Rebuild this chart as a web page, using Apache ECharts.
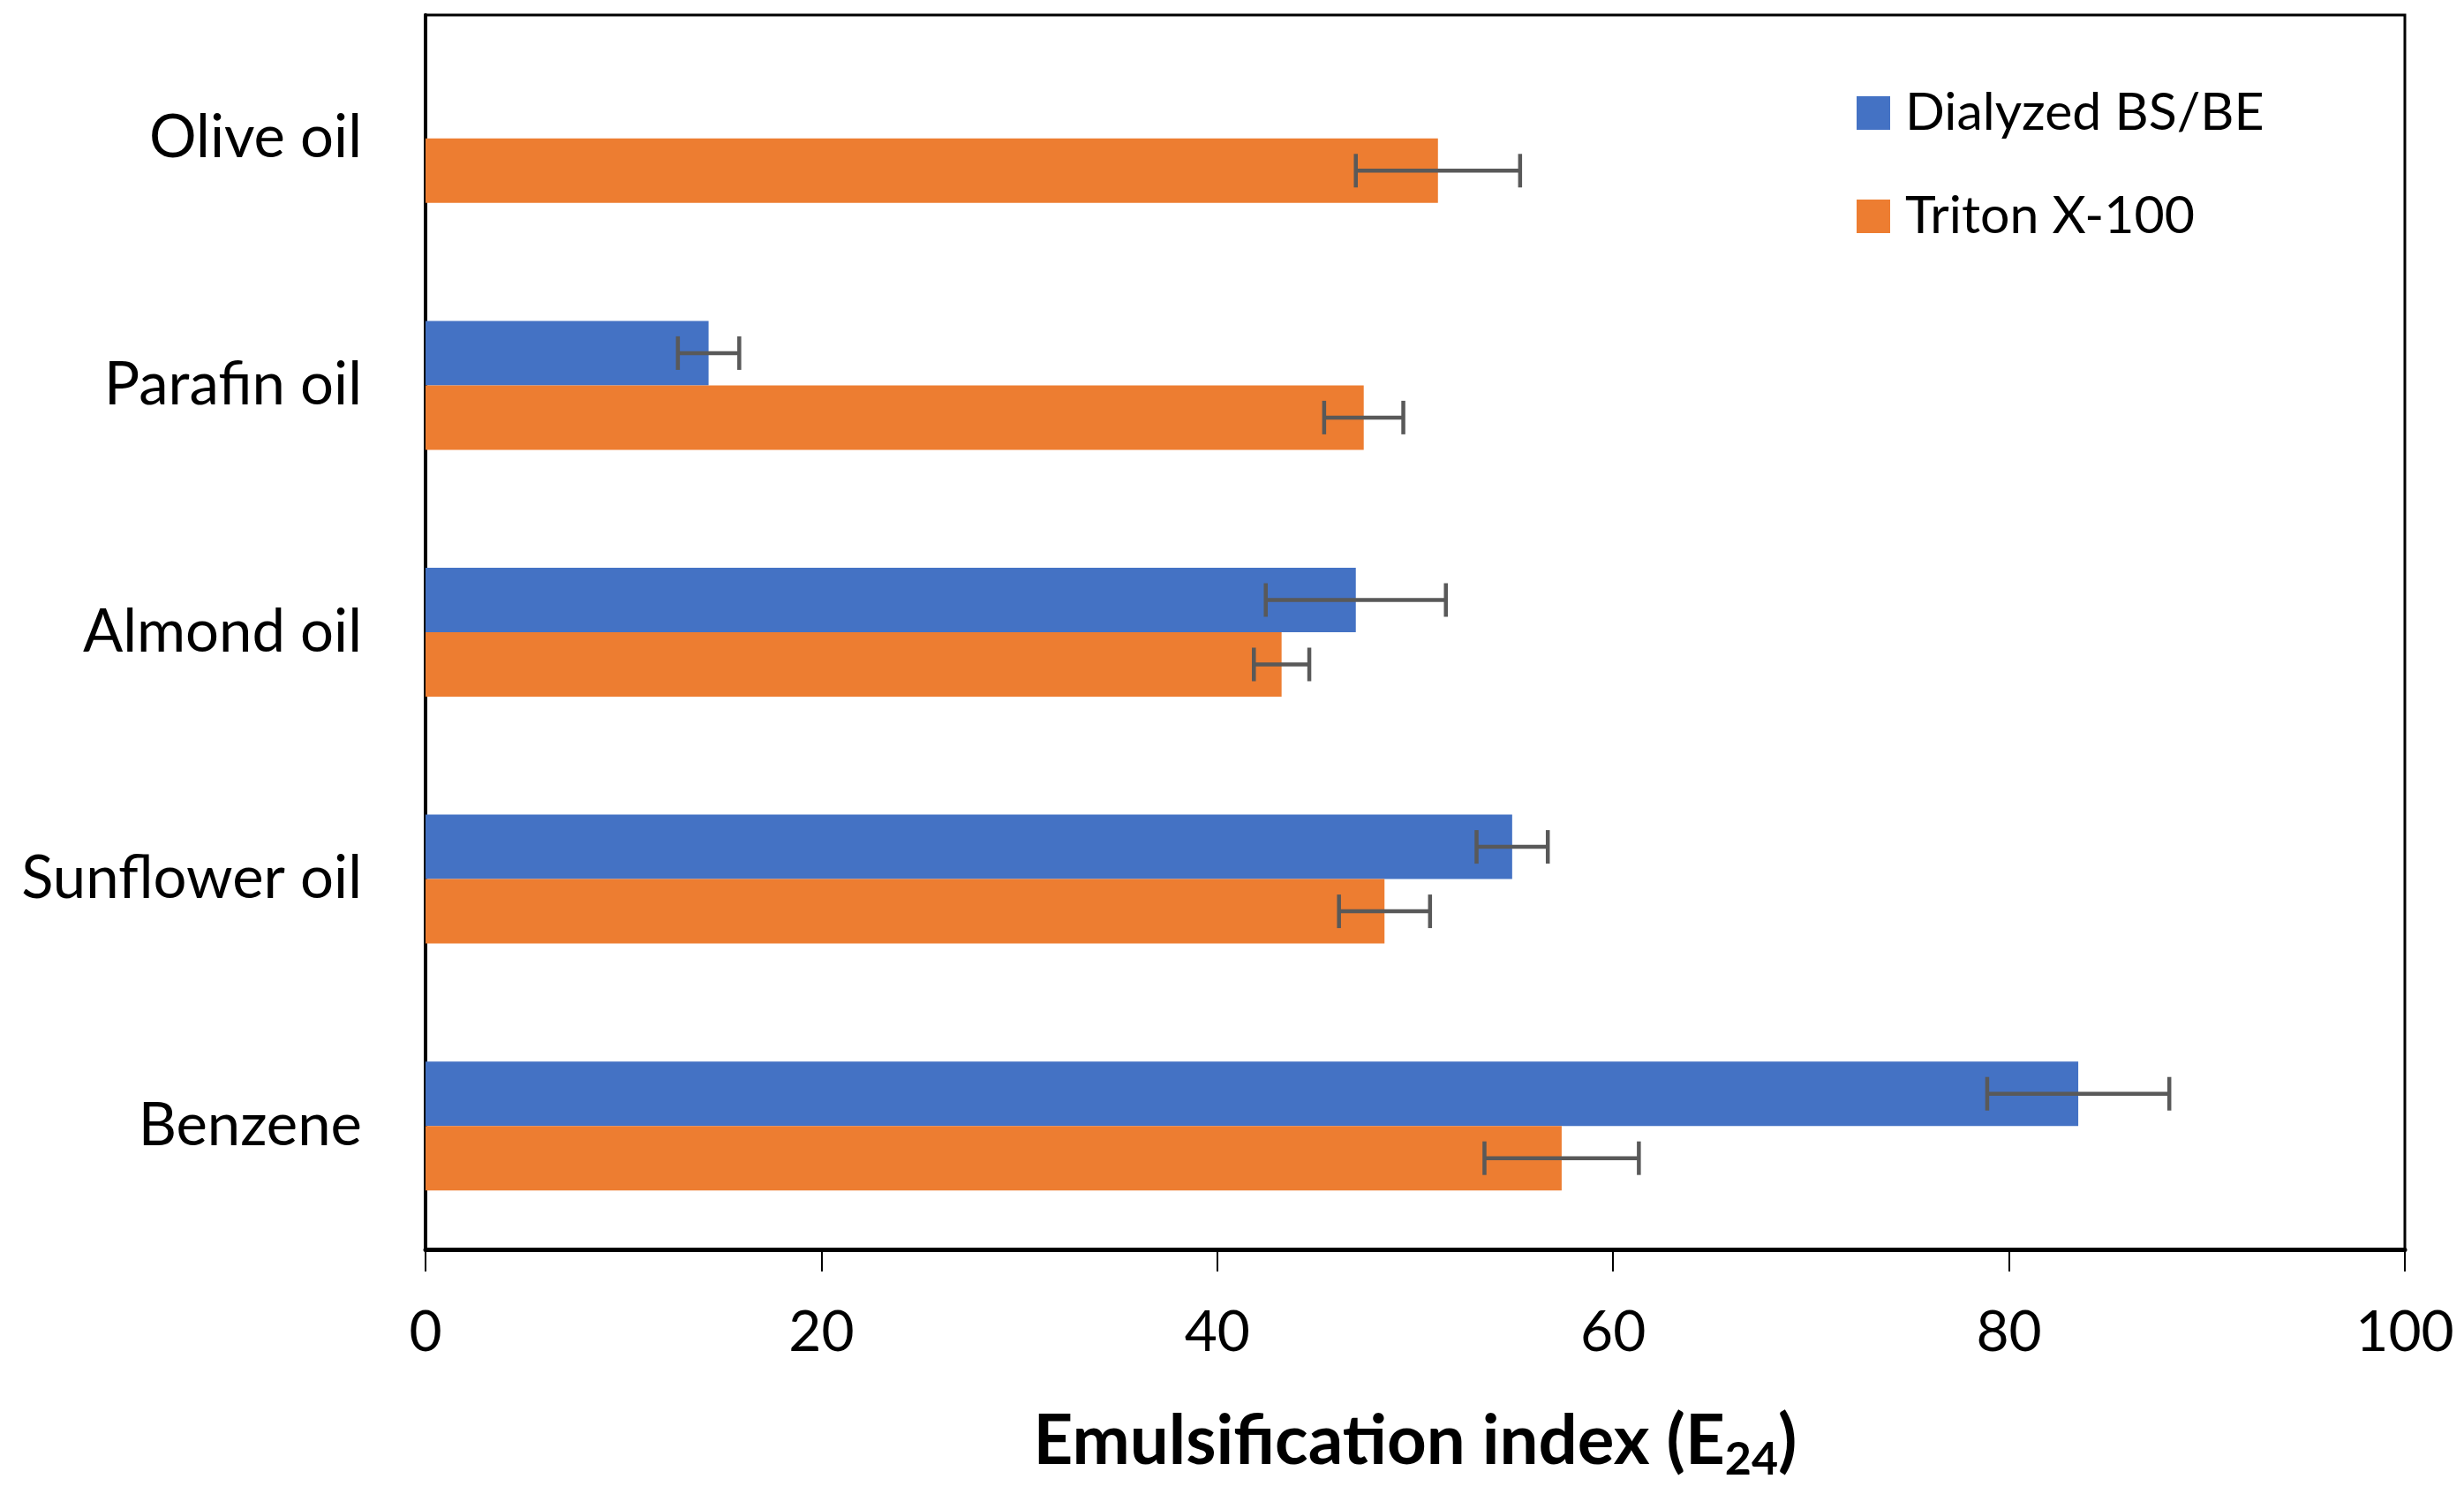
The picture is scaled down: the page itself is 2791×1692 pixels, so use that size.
<!DOCTYPE html>
<html>
<head>
<meta charset="utf-8">
<script src="https://cdn.jsdelivr.net/npm/echarts@6/dist/echarts.min.js"></script>
<style>
html,body{margin:0;padding:0;background:#fff;}
#chart{width:2791px;height:1692px;}
</style>
</head>
<body>
<div id="chart"></div>
<script>
var categories = ['Benzene', 'Sunflower oil', 'Almond oil', 'Parafin oil', 'Olive oil'];
var dialyzed = [83.5, 54.9, 47.0, 14.3, null];
var dialyzedErr = [4.6, 1.8, 4.55, 1.55, null];
var triton = [57.4, 48.45, 43.25, 47.4, 51.15];
var tritonErr = [3.9, 2.3, 1.4, 2.0, 4.15];
var xTicks = [0, 20, 40, 60, 80, 100];
var seriesNames = ['Dialyzed BS/BE', 'Triton X-100'];

var FONT = 'Lato';
var GAP = 0.478;
var BLUE = '#4472C4', ORANGE = '#ED7D31', ERR = '#595959';

function errData(vals, errs) {
  var out = [];
  for (var i = 0; i < vals.length; i++) {
    if (vals[i] != null && errs[i] != null) out.push([vals[i], i, errs[i]]);
  }
  return out;
}

function errRender(sign) {
  return function (params, api) {
    var v = api.value(0), c = api.value(1), e = api.value(2);
    var band = api.size([0, 1])[1];
    var bw = band * (1 - GAP) / 2;
    var yc = api.coord([v, c])[1] + sign * bw / 2;
    var xl = api.coord([v - e, c])[0];
    var xr = api.coord([v + e, c])[0];
    var h = 19;
    var st = { stroke: ERR, lineWidth: 4.5 };
    return {
      type: 'group',
      children: [
        { type: 'line', shape: { x1: xl, y1: yc, x2: xr, y2: yc }, style: st },
        { type: 'line', shape: { x1: xl, y1: yc - h, x2: xl, y2: yc + h }, style: st },
        { type: 'line', shape: { x1: xr, y1: yc - h, x2: xr, y2: yc + h }, style: st }
      ]
    };
  };
}

var chart = echarts.init(document.getElementById('chart'));
chart.setOption({
  animation: false,
  backgroundColor: '#fff',
  textStyle: { fontFamily: FONT },
  grid: {
    left: 482, right: 67, top: 17, bottom: 277,
    show: true, borderColor: '#000', borderWidth: 3, backgroundColor: 'transparent'
  },
  legend: {
    data: seriesNames,
    orient: 'vertical',
    left: 2098, top: 93,
    itemWidth: 38, itemHeight: 38,
    itemGap: 57,
    icon: 'rect',
    textStyle: { fontFamily: FONT, fontSize: 59, color: '#000', padding: [0, 0, 0, 12], lineHeight: 60 }
  },
  xAxis: {
    type: 'value',
    min: 0, max: 100, interval: 20,
    axisLine: { show: true, lineStyle: { color: '#000', width: 5 } },
    axisTick: { show: true, length: 25, lineStyle: { color: '#000', width: 2 } },
    splitLine: { show: false },
    axisLabel: {
      fontFamily: FONT, fontSize: 64, color: '#000', margin: 62,
      formatter: function (v) { return xTicks.indexOf(v) >= 0 ? String(v) : ''; }
    },
    name: 'Emulsification index (E{sub|24})',
    nameLocation: 'middle',
    nameGap: 172,
    nameTextStyle: {
      fontFamily: FONT, fontSize: 78, fontWeight: 'bold', color: '#000',
      rich: { sub: { fontFamily: FONT, fontSize: 52, fontWeight: 'bold', color: '#000', verticalAlign: 'bottom', padding: [40, 0, 0, 0] } }
    }
  },
  yAxis: {
    type: 'category',
    data: categories,
    axisLine: { show: true, lineStyle: { color: '#000', width: 4 } },
    axisTick: { show: false },
    axisLabel: { fontFamily: FONT, fontSize: 67, color: '#000', margin: 72 }
  },
  series: [
    {
      name: 'Dialyzed BS/BE', type: 'bar', data: dialyzed,
      itemStyle: { color: BLUE },
      barGap: '0%', barCategoryGap: (GAP * 100) + '%'
    },
    {
      name: 'Triton X-100', type: 'bar', data: triton,
      itemStyle: { color: ORANGE },
      barGap: '0%', barCategoryGap: (GAP * 100) + '%'
    },
    {
      name: 'errTriton', type: 'custom', renderItem: errRender(1),
      encode: { x: 0, y: 1 }, data: errData(triton, tritonErr), z: 5, silent: true
    },
    {
      name: 'errDialyzed', type: 'custom', renderItem: errRender(-1),
      encode: { x: 0, y: 1 }, data: errData(dialyzed, dialyzedErr), z: 5, silent: true
    }
  ]
});
</script>
</body>
</html>
